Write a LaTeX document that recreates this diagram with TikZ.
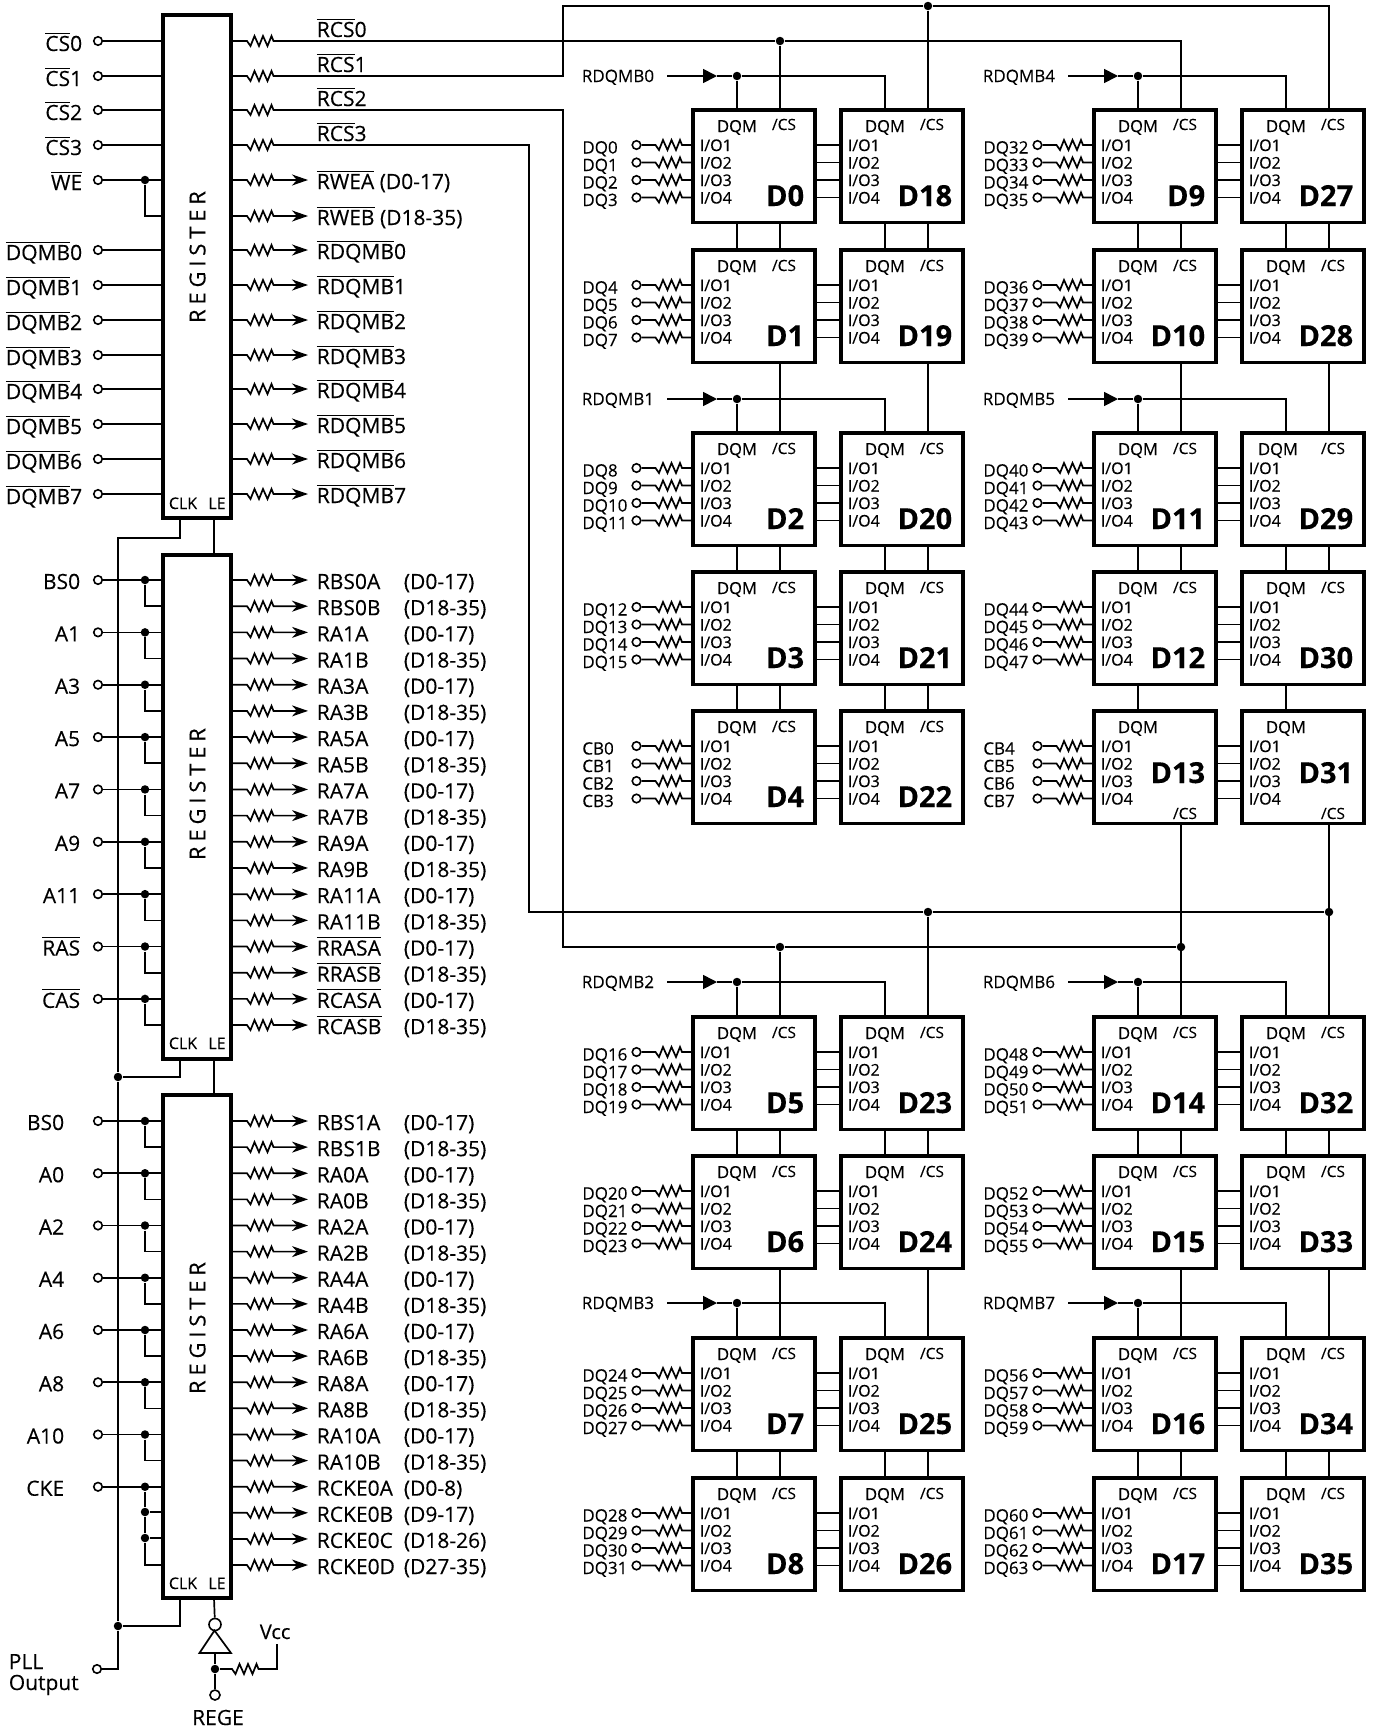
\documentclass[tikz,border=0pt]{standalone}
\usepackage{fontspec}
\setmainfont{Open Sans}[FakeBold=0.25]
\usetikzlibrary{arrows.meta}
\newcommand{\ovl}[1]{$\overline{\mbox{#1}\rule{0pt}{.8em}}$}
\tikzset{
  regbox/.style={draw,line width=3.8pt,minimum width=68pt,anchor=north west,inner sep=0pt,outer sep=0pt},
  chip/.style={draw,line width=3.5pt,minimum width=122pt,minimum height=112.5pt,anchor=north west,inner sep=0pt,outer sep=0pt},
  dot/.style={circle,fill=black,inner sep=0pt,minimum size=8.5pt},
  pinc/.style={circle,draw,fill=white,line width=1.6pt,inner sep=0pt,minimum size=8.5pt},
  biglbl/.style={inner sep=0pt,font=\fontsize{21}{24}\selectfont},
  smalllbl/.style={inner sep=0pt,anchor=base west,font=\fontsize{17}{20}\selectfont},
  dqmlbl/.style={inner sep=0pt,anchor=base,font=\fontsize{16.5}{20}\selectfont},
  iolbl/.style={inner sep=0pt,anchor=base west,font=\fontsize{16}{18}\selectfont},
  namelbl/.style={inner sep=0pt,anchor=base east,font=\fontsize{29}{32}\selectfont\bfseries},
  clklbl/.style={inner sep=0pt,anchor=base,font=\fontsize{16}{18}\selectfont},
  reglbl/.style={inner sep=0pt,rotate=90,font=\fontsize{22}{24}\selectfont\addfontfeature{LetterSpace=22}},
  outarrow/.style={-{Stealth[length=16pt,width=11pt,inset=5pt]}},
  inarrow/.style={-{Triangle[length=14pt,width=14pt]}},
  zig/.style={to path={-- ++(#1,0) -- ++(3.5,5) -- ++(4,-10) -- ++(4.5,10) -- ++(4,-10) -- ++(4.5,10) -- ++(4,-10) -- ++(2,5) -- (\tikztotarget) \tikztonodes}},
}
\begin{document}
\begin{tikzpicture}[x=1pt,y=-1pt,line width=1.7pt]

    \useasboundingbox[fill=white] (0,0) rectangle (1375,1730);

    % registers
    \node[regbox,minimum height=503pt] (rega) at (163,15) {};
    \node[regbox,minimum height=504pt] (regb) at (163,555) {};
    \node[regbox,minimum height=503pt] (regc) at (163,1095) {};
    \node[reglbl] (rega t) at (197.5,257) {REGISTER};
    \node[reglbl] (regb t) at (197.5,794) {REGISTER};
    \node[reglbl] (regc t) at (197.5,1328) {REGISTER};
    \foreach \r/\y in {a/503,b/1043,c/1583}
    {
        \node[clklbl] (clk\r t) at (183,\y+6) {CLK};
        \node[clklbl] (le\r t) at (217,\y+6) {LE};
    }

    % first register
    \foreach \lbl/\y [count=\i] in {\ovl{CS}0/41,\ovl{CS}1/76,\ovl{CS}2/110,\ovl{CS}3/145,\ovl{WE}/180,
        \ovl{DQMB}0/250,\ovl{DQMB}1/285,\ovl{DQMB}2/320,\ovl{DQMB}3/355,
        \ovl{DQMB}4/389,\ovl{DQMB}5/424,\ovl{DQMB}6/459,\ovl{DQMB}7/494}
    {
        \node[pinc] (ina\i) at (98,\y) {};
        \node[biglbl,anchor=base east] (ina\i t) at (83,\y+10) {\lbl};
        \draw (ina\i) -- (ina\i -| rega.west);
    }
    \node[dot] (dwe) at (145,180) {};
    \draw (dwe) |- (rega.west |- 0,216);

    \foreach \lbl/\i/\y in {\ovl{RCS}0/0/41,\ovl{RCS}1/1/76,\ovl{RCS}2/2/110,\ovl{RCS}3/3/145}
    {
        \coordinate (rcs\i) at (rega.east |- 0,\y);
        \node[biglbl,anchor=base west] (rcs\i t) at (316,\y-4) {\lbl};
    }
    \foreach \lbl/\y [count=\i] in {{\ovl{RWEA} (D0-17)}/180,{\ovl{RWEB} (D18-35)}/216,
        \ovl{RDQMB}0/250,\ovl{RDQMB}1/285,\ovl{RDQMB}2/320,\ovl{RDQMB}3/355,
        \ovl{RDQMB}4/389,\ovl{RDQMB}5/424,\ovl{RDQMB}6/459,\ovl{RDQMB}7/494}
    {
        \coordinate (outa\i) at (rega.east |- 0,\y);
        \coordinate (tipa\i) at (308,\y);
        \draw[outarrow] (outa\i) to[zig=16] (tipa\i);
        \node[biglbl,anchor=base west] (outa\i t) at (316,\y+9) {\lbl};
    }

    % second register
    \foreach \lbl [count=\i from 0, evaluate=\i as \y using 580+52.36*\i] in {BS0,A1,A3,A5,A7,A9,A11,\ovl{RAS},\ovl{CAS}}
    {
        \node[pinc] (inb\i) at (98,\y) {};
        \node[biglbl,anchor=base east] (inb\i t) at (81,\y+9) {\lbl};
        \node[dot] (dinb\i) at (145,\y) {};
        \draw (inb\i) -- (inb\i -| regb.west);
        \draw (dinb\i) |- (regb.west |- 0,\y+26.18);
    }
    \foreach \lbl/\rng [count=\i from 0, evaluate=\i as \y using 580+26.18*\i] in {RBS0A/D0-17,RBS0B/D18-35,
        RA1A/D0-17,RA1B/D18-35,RA3A/D0-17,RA3B/D18-35,RA5A/D0-17,RA5B/D18-35,RA7A/D0-17,RA7B/D18-35,
        RA9A/D0-17,RA9B/D18-35,RA11A/D0-17,RA11B/D18-35,\ovl{RRASA}/D0-17,\ovl{RRASB}/D18-35,
        \ovl{RCASA}/D0-17,\ovl{RCASB}/D18-35}
    {
        \coordinate (outb\i) at (regb.east |- 0,\y);
        \coordinate (tipb\i) at (308,\y);
        \draw[outarrow] (outb\i) to[zig=16] (tipb\i);
        \node[biglbl,anchor=base west] (outb\i t) at (316,\y+9) {\lbl};
        \node[biglbl,anchor=base west] (rngb\i t) at (403,\y+9) {(\rng)};
    }

    % third register
    \foreach \lbl [count=\i from 0, evaluate=\i as \y using 1121+52.25*\i] in {BS0,A0,A2,A4,A6,A8,A10,CKE}
    {
        \node[pinc] (inc\i) at (98,\y) {};
        \node[biglbl,anchor=base east] (inc\i t) at (65,\y+9) {\lbl};
        \node[dot] (dinc\i) at (145,\y) {};
        \draw (inc\i) -- (inc\i -| regc.west);
    }
    \foreach \i [evaluate=\i as \y using 1121+52.25*\i] in {0,...,6}
        \draw (dinc\i) |- (regc.west |- 0,\y+26.12);
    \node[dot] (dcke1) at (145,1512) {};
    \node[dot] (dcke2) at (145,1538) {};
    \draw (dcke1) -- (dcke1 -| regc.west);
    \draw (dcke2) -- (dcke2 -| regc.west);
    \draw (dinc7) -- (dcke1) -- (dcke2) |- (regc.west |- 0,1565);

    \foreach \lbl/\rng [count=\i from 0, evaluate=\i as \y using 1121+26.12*\i] in {RBS1A/D0-17,RBS1B/D18-35,
        RA0A/D0-17,RA0B/D18-35,RA2A/D0-17,RA2B/D18-35,RA4A/D0-17,RA4B/D18-35,RA6A/D0-17,RA6B/D18-35,
        RA8A/D0-17,RA8B/D18-35,RA10A/D0-17,RA10B/D18-35,RCKE0A/D0-8,RCKE0B/D9-17,RCKE0C/D18-26,RCKE0D/D27-35}
    {
        \coordinate (outc\i) at (regc.east |- 0,\y);
        \coordinate (tipc\i) at (308,\y);
        \draw[outarrow] (outc\i) to[zig=16] (tipc\i);
        \node[biglbl,anchor=base west] (outc\i t) at (316,\y+9) {\lbl};
        \node[biglbl,anchor=base west] (rngc\i t) at (403,\y+9) {(\rng)};
    }

    % clock and latch enable
    \coordinate (clka) at (180,518);
    \coordinate (clkb) at (180,1059);
    \coordinate (clkc) at (180,1598);
    \coordinate (clkup) at (118,538);
    \node[dot] (dclkb) at (118,1077) {};
    \node[dot] (dclkc) at (118,1626) {};
    \node[pinc] (pll) at (97,1669) {};
    \node[biglbl,anchor=base west] (pll t) at (8,1669) {PLL};
    \node[biglbl,anchor=base west] (output t) at (8,1690) {Output};
    \draw (clka) |- (clkup) -- (dclkb) -- (dclkc) |- (pll);
    \draw (clkb) |- (dclkb);
    \draw (clkc) |- (dclkc);

    \coordinate (lea) at (214,518);
    \coordinate (leb) at (214,1059);
    \coordinate (lec) at (214,1598);
    \draw (lea) -- (lea |- regb.north);
    \draw (leb) -- (leb |- regc.north);

    \node[pinc,minimum size=12pt] (invb) at (215,1624.5) {};
    \draw (lec) -- (invb);
    \draw (214.5,1630.5) -- (199.5,1653) -- (231,1653) -- cycle;
    \coordinate (invo) at (215,1653);
    \node[dot] (dinv) at (215,1669) {};
    \node[pinc,minimum size=10pt] (rege) at (215,1695) {};
    \node[biglbl,anchor=base] (rege t) at (218,1725) {REGE};
    \draw (invo) -- (dinv) -- (rege);
    \coordinate (vcc) at (277,1644);
    \draw (dinv) to[zig=17] (277,1669) -- (vcc);
    \node[smalllbl,font=\fontsize{20}{22}\selectfont] (vcc t) at (259,1639) {Vcc};

    % memory chips
    \foreach \name/\x/\y/\ox/\cy/\ny in {
        D0/693/110/44/20/96,D1/693/250/44/21/96,D2/693/433/44/21/96,D3/693/572/44/21/96,D4/693/711/44/21/96,
        D5/693/1017/44/21/96,D6/693/1156/44/21/96,D7/693/1338/44/21/96,D8/693/1478/44/21/96,
        D18/841/110/44/20/96,D19/841/250/44/21/96,D20/841/433/44/21/96,D21/841/572/44/21/96,D22/841/711/44/21/96,
        D23/841/1017/44/21/96,D24/841/1156/44/21/96,D25/841/1338/44/21/96,D26/841/1478/44/21/96,
        D9/1094/110/44/20/96,D10/1094/250/44/21/96,D11/1094/433/44/21/96,D12/1094/572/44/21/96,D13/1094/711/44/108/72,
        D14/1094/1017/44/21/96,D15/1094/1156/44/21/96,D16/1094/1338/44/21/96,D17/1094/1478/44/21/96,
        D27/1242/110/44/20/96,D28/1242/250/44/21/96,D29/1242/433/36/21/96,D30/1242/572/44/21/96,D31/1242/711/44/108/72,
        D32/1242/1017/44/21/96,D33/1242/1156/44/21/96,D34/1242/1338/44/21/96,D35/1242/1478/44/21/96}
    {
        \node[chip] (\name) at (\x,\y) {};
        \node[dqmlbl] (\name qt) at (\x+\ox,\y+22) {DQM};
        \node[dqmlbl,font=\fontsize{15.5}{18}\selectfont] (\name ct) at (\x+91,\y+\cy) {/CS};
        \node[namelbl] (\name nt) at (\x+112,\y+\ny) {\name};
        \coordinate (\name dqm) at (\x+44,\y);
        \coordinate (\name cs) at (\x+87,\y);
        \foreach \p [count=\k] in {35,52.5,70,87.5}
        {
            \coordinate (\name io\k) at (\x,\y+\p);
            \node[iolbl] (\name io\k t) at (\x+6,\y+\p+6) {I/O\k};
        }
    }

    % data pins on the left of each pair
    \foreach \name/\pre/\n in {D0/DQ/0,D1/DQ/4,D2/DQ/8,D3/DQ/12,D4/CB/0,D5/DQ/16,D6/DQ/20,D7/DQ/24,D8/DQ/28,
        D9/DQ/32,D10/DQ/36,D11/DQ/40,D12/DQ/44,D13/CB/4,D14/DQ/48,D15/DQ/52,D16/DQ/56,D17/DQ/60}
    \foreach \k in {1,2,3,4}
    {
        \pgfmathtruncatemacro\m{\n+\k-1}
        \node[pinc] (\name p\k) at ([xshift=-56.5pt]\name io\k) {};
        \node[smalllbl] (\name p\k t) at ([xshift=-111.5pt,yshift=-8.5pt]\name io\k) {\pre\m};
        \draw (\name p\k) to[zig=19] (\name io\k);
    }

    % links between the two chips of a pair
    \foreach \lft/\rgt in {D0/D18,D1/D19,D2/D20,D3/D21,D4/D22,D5/D23,D6/D24,D7/D25,D8/D26,
        D9/D27,D10/D28,D11/D29,D12/D30,D13/D31,D14/D32,D15/D33,D16/D34,D17/D35}
    \foreach \k in {1,2,3,4}
        \draw (\lft.east |- \lft io\k) -- (\rgt io\k);

    % links down a column
    \foreach \up/\dn in {D0/D1,D2/D3,D3/D4,D5/D6,D7/D8,D18/D19,D20/D21,D21/D22,D23/D24,D25/D26,
        D9/D10,D11/D12,D14/D15,D16/D17,D27/D28,D29/D30,D32/D33,D34/D35,D12/D13,D30/D31}
        \draw (\up dqm |- \up.south) -- (\dn dqm);
    \foreach \up/\dn in {D0/D1,D2/D3,D3/D4,D5/D6,D7/D8,D18/D19,D20/D21,D21/D22,D23/D24,D25/D26,
        D9/D10,D11/D12,D14/D15,D16/D17,D27/D28,D29/D30,D32/D33,D34/D35,
        D1/D2,D6/D7,D19/D20,D24/D25,D10/D11,D15/D16,D28/D29,D33/D34}
        \draw (\up cs |- \up.south) -- (\dn cs);

    % RDQMB inputs
    \foreach \lbl/\x/\y/\lft/\rgt in {RDQMB0/581/76/D0/D18,RDQMB1/581/399/D2/D20,RDQMB2/581/982/D5/D23,RDQMB3/581/1303/D7/D25,
        RDQMB4/982/76/D9/D27,RDQMB5/982/399/D11/D29,RDQMB6/982/982/D14/D32,RDQMB7/982/1303/D16/D34}
    {
        \node[smalllbl] (\lbl t) at (\x,\y+6) {\lbl};
        \coordinate (\lbl s) at (\x+86,\y);
        \coordinate (\lbl e) at (\x+136,\y);
        \node[dot] (\lbl d) at (\lft dqm |- 0,\y) {};
        \draw[inarrow] (\lbl s) -- (\lbl e);
        \draw (\lbl e) -- (\lbl d);
        \draw (\lbl d) -- (\lft dqm);
        \draw (\lbl d) -| (\rgt dqm);
    }

    % chip select buses
    \coordinate (busa) at (563,0);
    \coordinate (busb) at (529,0);
    \node[dot] (dcs0) at (D0cs |- rcs0) {};
    \draw (rcs0) to[zig=16] (dcs0);
    \draw (dcs0) -| (D9cs);
    \draw (dcs0) -- (D0cs);
    \node[dot] (dcs1) at (D18cs |- 0,6) {};
    \draw (rcs1) to[zig=16] (busa |- rcs1) |- (dcs1);
    \draw (dcs1) -| (D27cs);
    \draw (dcs1) -- (D18cs);
    \node[dot] (dcs2) at (D5cs |- 0,947) {};
    \node[dot] (dcs2r) at (D14cs |- 0,947) {};
    \draw (rcs2) to[zig=16] (busa |- rcs2) |- (dcs2) -- (dcs2r);
    \draw (dcs2) -- (D5cs);
    \draw (D13cs |- D13.south) -- (D14cs);
    \node[dot] (dcs3) at (D23cs |- 0,912) {};
    \node[dot] (dcs3r) at (D32cs |- 0,912) {};
    \draw (rcs3) to[zig=16] (busb |- rcs3) |- (dcs3) -- (dcs3r);
    \draw (dcs3) -- (D23cs);
    \draw (D31cs |- D31.south) -- (D32cs);

\end{tikzpicture}
\end{document}
